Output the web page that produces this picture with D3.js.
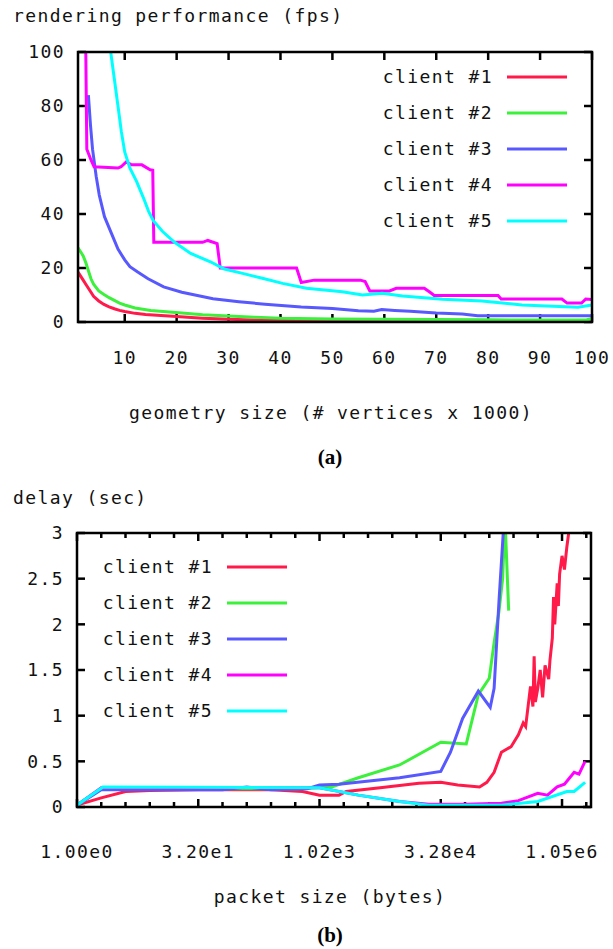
<!DOCTYPE html>
<html lang="en">
<head>
    <meta charset="UTF-8">
    <title>rendering performance and delay</title>
    <script src="https://d3js.org/d3.v7.min.js"></script>
    <style>
        body { margin: 0; background: #fff; }
        svg { display: block; }
        .gp { font-family: 'DejaVu Sans Mono', monospace; font-size: 18px; letter-spacing: 1.4px; fill: #111; }
        .cap { font-family: 'Liberation Serif', serif; font-size: 21px; font-weight: bold; fill: #000; }
    </style>
</head>
<body>
<div id="chart"></div>
<script>
// ---- data: chart (a) rendering performance, [vertices x 1000, fps] ----
var fpsClient1 = [[1,18.5],[1.5,17],[2,15.5],[2.5,14],[3,12.5],[3.5,11],[4,9.5],[5,7.8],[6,6.5],[7,5.6],[8,4.9],[9,4.3],[10,3.9],[12,3.2],[14,2.8],[17,2.4],[20,2],[25,1.4],[30,1],[35,0.7],[40,0.6],[50,0.5],[60,0.4],[70,0.35],[80,0.3],[90,0.3],[100,0.3]];
var fpsClient2 = [[1,27.5],[1.5,26],[2,24.5],[2.5,22],[3,19],[3.5,16],[4,14],[5,11.5],[6,10.2],[7,9],[8,8],[9,7],[10,6.3],[12,5.2],[15,4.3],[18,3.8],[21,3.3],[25,2.7],[30,2.2],[35,1.8],[40,1.4],[50,1.1],[60,1],[70,0.9],[80,0.8],[90,0.7],[99,0.8],[100,1.2]];
var fpsClient3 = [[3,84],[3.4,73],[3.8,64],[4.5,54],[5.1,47],[6.1,39],[7.4,33],[8.7,27],[10,23],[11,20.5],[12.5,18.5],[14.5,16],[17.5,13],[21,11],[24,9.8],[27,8.6],[32,7.5],[37,6.6],[44,5.6],[50,5],[55,4.2],[58,4],[59.5,4.6],[62,4.3],[65,4],[70,3.3],[75,3],[78,2.3],[100,2.3]];
var fpsClient4 = [[2.5,100],[2.7,64],[3.5,60],[4.1,57.5],[8.7,57],[9.3,57.5],[10.3,59.3],[11.3,58.2],[13.3,58.2],[14.9,56.4],[15.4,56.2],[15.6,29.5],[25,29.5],[26,30.2],[27.8,29],[28.4,20],[43.1,20],[44,14.6],[46.5,15.5],[55.4,15.5],[56.3,15],[57.2,11.5],[61,11.5],[62.3,12.5],[67.7,12.5],[68.8,11],[69.6,9.8],[81.9,9.8],[82.5,8.5],[94.2,8.5],[95.2,7],[98,7],[98.8,8.5],[100,8.3]];
var fpsClient5 = [[7.3,100],[8,90],[8.7,80],[9.35,70.5],[10,63],[11,57],[12.3,52],[13.6,46],[14.6,41],[15.5,37.5],[17.3,33.5],[19.6,29.5],[22.7,25.4],[26.5,22.3],[29.2,19.6],[32.7,18],[36.5,16.2],[40.4,14.3],[45,12.5],[51.9,11.2],[55.8,10],[59.6,10.6],[63.5,9.6],[71.2,8.4],[78.8,7.8],[86.5,6.3],[97.3,5.5],[100,6.3]];

// ---- data: chart (b) delay, [packet size in bytes, seconds] ----
var delayClient1 = [[1,0.02],[2,0.1],[4,0.17],[8,0.18],[32,0.19],[256,0.19],[630,0.17],[1024,0.13],[1783,0.13],[2195,0.17],[5793,0.21],[17560,0.26],[32768,0.27],[53200,0.24],[99300,0.22],[122300,0.27],[150500,0.38],[185400,0.6],[244600,0.66],[301100,0.79],[345900,0.92],[370700,0.88],[425800,1.32],[456400,1.1],[472500,1.65],[489100,1.15],[524300,1.3],[561900,1.5],[602200,1.2],[645500,1.55],[716200,1.4],[741500,1.6],[794700,1.85],[822700,2.3],[851700,2],[912800,2.45],[945000,2.2],[978400,2.55],[1048576,2.75],[1123800,2.6],[1204400,2.85],[1290900,3.05]];
var delayClient2 = [[1,0.02],[2,0.2],[8,0.2],[64,0.2],[512,0.2],[1448,0.22],[3104,0.32],[10085,0.46],[32768,0.71],[67900,0.69],[95900,1.23],[131072,1.41],[150500,1.8],[172900,2.14],[191900,2.5],[205700,3.15],[228200,2.15]];
var delayClient3 = [[1,0.02],[2,0.19],[8,0.19],[64,0.19],[128,0.22],[256,0.19],[724,0.2],[1024,0.24],[1783,0.25],[10085,0.32],[32768,0.39],[43240,0.6],[61150,0.97],[95900,1.27],[134700,1.09],[150500,1.3],[172900,2.25],[198600,3.1]];
var delayClient4 = [[1,0.02],[2,0.21],[1024,0.21],[3104,0.13],[10085,0.06],[23170,0.03],[65536,0.03],[185400,0.04],[301100,0.07],[524300,0.15],[691700,0.13],[912800,0.22],[1123800,0.25],[1482900,0.38],[1703400,0.36],[2026000,0.5]];
var delayClient5 = [[1,0.02],[2.1,0.22],[1024,0.21],[3104,0.13],[10085,0.06],[23170,0.02],[185400,0.02],[524300,0.06],[1204400,0.17],[1482900,0.17],[2026000,0.27]];

var clientNames = ['client #1', 'client #2', 'client #3', 'client #4', 'client #5'];
var clientColors = ['#ff1a4a', '#3cf03c', '#5858ff', '#ff00ff', '#00ffff'];

var fpsTicks = [0, 20, 40, 60, 80, 100];
var sizeTicks = [10, 20, 30, 40, 50, 60, 70, 80, 90, 100];
var delayTicks = [0, 0.5, 1, 1.5, 2, 2.5, 3];
var packetTicks = [1, 32, 1024, 32768, 1048576];
var packetLabels = ['1.00e0', '3.20e1', '1.02e3', '3.28e4', '1.05e6'];
var packetMinor = [2, 4, 8, 16, 64, 128, 256, 512, 2048, 4096, 8192, 16384, 65536, 131072, 262144, 524288, 2097152];

var svgwidth = 613, svgheight = 949;
var svg = d3.select('#chart').append('svg')
    .attr('width', svgwidth)
    .attr('height', svgheight);

// draws one gnuplot style panel
function panel(opt) {
    var x = opt.x, y = opt.y;
    var x0 = x.range()[0], x1 = x.range()[1];
    var y0 = y.range()[0], y1 = y.range()[1];
    var g = svg.append('g');

    g.append('clipPath').attr('id', opt.id)
        .append('rect').attr('x', x0).attr('y', y1)
        .attr('width', x1 - x0).attr('height', y0 - y1);

    // ticks pointing in, on all four sides
    var tk = g.append('g').attr('stroke', '#000').attr('stroke-width', 2.5);
    opt.xTicks.forEach(function(t) {
        tk.append('line').attr('x1', x(t)).attr('x2', x(t)).attr('y1', y0).attr('y2', y0 - 8);
        tk.append('line').attr('x1', x(t)).attr('x2', x(t)).attr('y1', y1).attr('y2', y1 + 8);
    });
    (opt.xMinor || []).forEach(function(t) {
        tk.append('line').attr('x1', x(t)).attr('x2', x(t)).attr('y1', y0).attr('y2', y0 - 5);
        tk.append('line').attr('x1', x(t)).attr('x2', x(t)).attr('y1', y1).attr('y2', y1 + 5);
    });
    opt.yTicks.forEach(function(t) {
        tk.append('line').attr('x1', x0).attr('x2', x0 + 8).attr('y1', y(t)).attr('y2', y(t));
        tk.append('line').attr('x1', x1).attr('x2', x1 - 8).attr('y1', y(t)).attr('y2', y(t));
    });

    // tick labels
    g.selectAll('.ylab').data(opt.yTicks).enter().append('text')
        .attr('class', 'gp')
        .attr('x', x0 - 13).attr('y', function(d) { return y(d); })
        .attr('dy', '0.35em').attr('text-anchor', 'end')
        .text(function(d) { return d; });
    g.selectAll('.xlab').data(opt.xTicks).enter().append('text')
        .attr('class', 'gp')
        .attr('x', function(d) { return x(d); }).attr('y', opt.xLabY)
        .attr('dy', '0.35em').attr('text-anchor', 'middle')
        .text(function(d, i) { return opt.xLabels ? opt.xLabels[i] : d; });

    // series
    var line = d3.line().x(function(d) { return x(d[0]); }).y(function(d) { return y(d[1]); });
    var lines = g.append('g').attr('clip-path', 'url(#' + opt.id + ')');
    opt.series.forEach(function(s, i) {
        lines.append('path').datum(s)
            .attr('d', line)
            .attr('fill', 'none')
            .attr('stroke', clientColors[i])
            .attr('stroke-width', 3)
            .attr('stroke-linejoin', 'miter');
    });

    // frame
    g.append('rect').attr('x', x0).attr('y', y1)
        .attr('width', x1 - x0).attr('height', y0 - y1)
        .attr('fill', 'none').attr('stroke', '#000').attr('stroke-width', 2.5);

    // legend
    clientNames.forEach(function(name, i) {
        var ly = opt.legY + i * 36;
        g.append('text').attr('class', 'gp')
            .attr('x', opt.legTextX).attr('y', ly).attr('dy', '0.35em')
            .attr('text-anchor', 'end').text(name);
        g.append('line')
            .attr('x1', opt.legLineX).attr('x2', opt.legLineX + 60)
            .attr('y1', ly).attr('y2', ly)
            .attr('stroke', clientColors[i]).attr('stroke-width', 3);
    });

    // titles
    g.append('text').attr('class', 'gp').attr('x', 13).attr('y', opt.titleY)
        .attr('dy', '0.35em').text(opt.yTitle);
    g.append('text').attr('class', 'gp').attr('x', (x0 + x1) / 2 - 4).attr('y', opt.xTitleY)
        .attr('dy', '0.35em').attr('text-anchor', 'middle').text(opt.xTitle);
    g.append('text').attr('class', 'cap').attr('x', 330).attr('y', opt.capY)
        .attr('dy', '0.35em').attr('text-anchor', 'middle').text(opt.cap);
}

panel({
    id: 'clipA',
    x: d3.scaleLinear().domain([1, 100]).range([78, 592]),
    y: d3.scaleLinear().domain([0, 100]).range([322, 52]),
    xTicks: sizeTicks, yTicks: fpsTicks, xLabY: 358,
    series: [fpsClient1, fpsClient2, fpsClient3, fpsClient4, fpsClient5],
    legY: 77, legTextX: 493, legLineX: 507,
    titleY: 16, yTitle: 'rendering performance (fps)',
    xTitleY: 413, xTitle: 'geometry size (# vertices x 1000)',
    capY: 457, cap: '(a)'
});

panel({
    id: 'clipB',
    x: d3.scaleLog().base(2).domain([1, 2.4e6]).range([77, 591]),
    y: d3.scaleLinear().domain([0, 3]).range([807, 533]),
    xTicks: packetTicks, xLabels: packetLabels, xMinor: packetMinor,
    yTicks: delayTicks, xLabY: 852,
    series: [delayClient1, delayClient2, delayClient3, delayClient4, delayClient5],
    legY: 567, legTextX: 213, legLineX: 227,
    titleY: 498, yTitle: 'delay (sec)',
    xTitleY: 897, xTitle: 'packet size (bytes)',
    capY: 935, cap: '(b)'
});
</script>
</body>
</html>
